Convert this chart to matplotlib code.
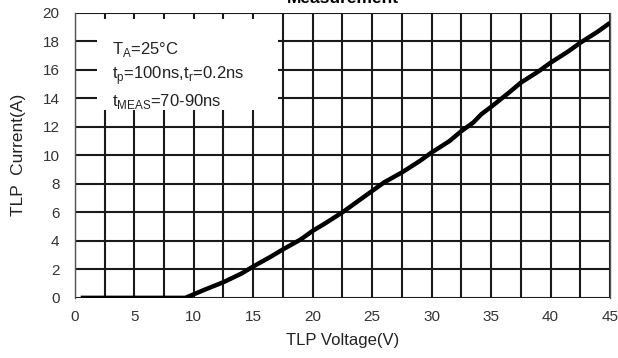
import matplotlib
matplotlib.use("Agg")
import matplotlib.pyplot as plt
from matplotlib.patches import Rectangle

# TLP curve
voltage = [0.5, 5.0, 9.3, 10.0, 11.0, 12.5, 14.0, 15.0, 16.5, 17.5, 19.0, 20.0, 21.0, 22.5,
           24.0, 25.0, 26.0, 27.5, 29.0, 30.0, 31.5, 32.5, 33.5, 34.2, 35.0, 36.5, 37.5,
           39.0, 40.0, 41.5, 42.5, 44.0, 45.0]
current = [0.0, 0.0, 0.0, 0.25, 0.6, 1.1, 1.7, 2.2, 2.9, 3.4, 4.1, 4.7, 5.2, 6.0,
           6.9, 7.5, 8.1, 8.8, 9.6, 10.2, 11.0, 11.7, 12.3, 12.9, 13.4, 14.4, 15.1,
           15.9, 16.5, 17.3, 17.9, 18.7, 19.3]

x_ticks = [0, 5, 10, 15, 20, 25, 30, 35, 40, 45]
y_ticks = [0, 2, 4, 6, 8, 10, 12, 14, 16, 18, 20]
notes = [r"T$_\mathregular{A}$=25°C",
         r"t$_\mathregular{p}$=100ns,t$_\mathregular{r}$=0.2ns",
         r"t$_\mathregular{MEAS}$=70-90ns"]

plt.rcParams['font.family'] = ['Liberation Sans', 'DejaVu Sans']

fig = plt.figure(figsize=(6.18, 3.58), dpi=100)
ax = fig.add_axes([0.121, 0.168, 0.866, 0.796])

ax.set_xlim(0, 45)
ax.set_ylim(0, 20)
ax.set_xticks(x_ticks)
ax.set_yticks(y_ticks)
ax.set_xticks([v + 2.5 for v in x_ticks[:-1]], minor=True)
ax.grid(True, which='both', color='#1a1a1a', linewidth=1.5)
ax.set_axisbelow(True)
ax.tick_params(which='both', length=0, labelsize=11, colors='#333333')
ax.tick_params(axis='x', pad=9)
ax.tick_params(axis='y', pad=11)
for sp in ax.spines.values():
    sp.set_color('#555555')
    sp.set_linewidth(1.0)
ax.spines['bottom'].set_visible(False)
ax.spines['top'].set_visible(False)

# white box for the conditions text
ax.add_patch(Rectangle((1.9, 13.15), 15.2, 6.4, facecolor='white', edgecolor='none', zorder=2))

ax.plot(voltage, current, color='black', linewidth=3.2, zorder=3, solid_capstyle='butt')

for i, t in enumerate(notes):
    ax.text(3.1, 17.4 - i * 1.8, t, fontsize=12, color='#222222', zorder=4, va='center')

ax.set_xlabel("TLP Voltage(V)", fontsize=12, color='#222222', labelpad=6)
ax.set_ylabel("TLP  Current(A)", fontsize=12.5, color='#222222', labelpad=12)
fig.text(0.555, 1.005, "Measurement", ha='center', va='center', fontsize=12.5, fontweight='bold')

fig.savefig("out.png", dpi=100)
